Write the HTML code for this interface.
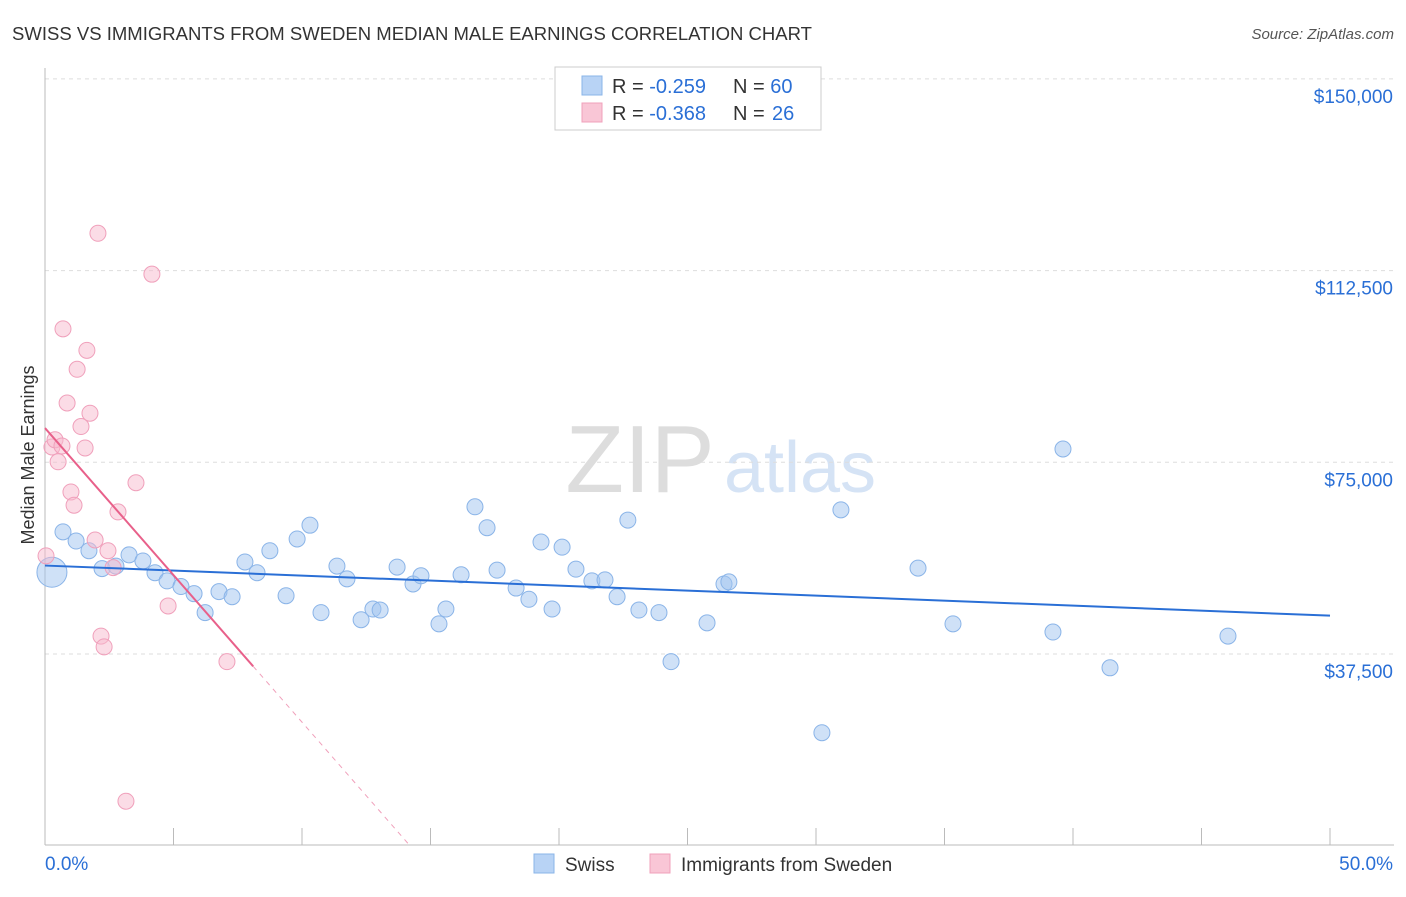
<!DOCTYPE html>
<html><head><meta charset="utf-8"><style>
body{margin:0;background:#fff;font-family:"Liberation Sans",sans-serif}
svg text{font-family:"Liberation Sans",sans-serif}
</style></head><body>
<svg id="c" width="1406" height="892" xmlns="http://www.w3.org/2000/svg">
<text x="12" y="40" font-size="18" fill="#333" textLength="800" lengthAdjust="spacingAndGlyphs">SWISS VS IMMIGRANTS FROM SWEDEN MEDIAN MALE EARNINGS CORRELATION CHART</text>
<text x="1394" y="39" font-size="15" fill="#555" font-style="italic" text-anchor="end">Source: ZipAtlas.com</text>
<text x="640" y="492" font-size="96" fill="#ddd" font-family="Liberation Serif" text-anchor="middle">ZIP</text>
<text x="800" y="492" font-size="72" fill="#d5e3f5" text-anchor="middle">atlas</text>
<g id="grid"></g><g id="axes"></g><g id="marks"></g>
<text transform="translate(34,455) rotate(-90)" font-size="18" fill="#333" text-anchor="middle">Median Male Earnings</text>
<g>
<rect x="555" y="67" width="266" height="63" fill="#fff" stroke="#ccc"/>
<rect x="582" y="76" width="20" height="19" fill="#b8d3f5" stroke="#8ab4e8"/>
<rect x="582" y="103" width="20" height="19" fill="#f9c6d6" stroke="#f0a0bb"/>
<text x="612" y="93" font-size="20" fill="#333">R = <tspan fill="#2a6fd6">-0.259</tspan></text>
<text x="733" y="93" font-size="20" fill="#333">N = <tspan fill="#2a6fd6">60</tspan></text>
<text x="612" y="120" font-size="20" fill="#333">R = <tspan fill="#2a6fd6">-0.368</tspan></text>
<text x="733" y="120" font-size="20" fill="#333">N = </text>
<text x="772" y="120" font-size="20" fill="#2a6fd6">26</text>
</g>
<g>
<rect x="534" y="854" width="20" height="19" fill="#b8d3f5" stroke="#8ab4e8"/>
<text x="565" y="871" font-size="19" fill="#333">Swiss</text>
<rect x="650" y="854" width="20" height="19" fill="#f9c6d6" stroke="#f0a0bb"/>
<text x="681" y="871" font-size="19" fill="#333">Immigrants from Sweden</text>
</g>
</svg>
<script>
const yTicks=[37500,75000,112500,150000];
const yTickLabels=["$37,500","$75,000","$112,500","$150,000"];
const xTickLabels=["0.0%","50.0%"];
const swissX=[0.27,0.70,1.21,1.71,2.22,2.76,3.27,3.81,4.28,4.75,5.29,5.80,6.23,6.77,7.28,7.78,8.25,8.75,9.38,9.81,10.31,10.74,11.36,11.75,12.30,12.76,13.04,13.70,14.32,14.63,15.33,15.60,16.19,16.73,17.20,17.59,18.33,18.83,19.30,19.73,20.12,20.66,21.28,21.79,22.26,22.68,23.11,23.89,24.36,25.76,26.42,26.61,30.23,30.97,33.97,35.33,39.22,39.61,41.44,46.03];
const swissY=[53.5,61.4,59.6,57.7,54.2,54.7,56.9,55.7,53.4,51.8,50.7,49.3,45.6,49.7,48.7,55.5,53.4,57.7,48.9,60.0,62.7,45.6,54.7,52.2,44.2,46.3,46.1,54.5,51.2,52.8,43.4,46.3,53.0,66.3,62.2,53.9,50.4,48.2,59.4,46.3,58.4,54.1,51.8,52.0,48.7,63.7,46.1,45.6,36.0,43.6,51.2,51.6,22.1,65.7,54.3,43.4,41.8,77.6,34.8,41.0];
const swedX=[0.04,0.27,0.39,0.51,0.66,0.70,0.86,1.01,1.13,1.25,1.40,1.56,1.63,1.75,1.95,2.06,2.18,2.30,2.45,2.65,2.84,3.15,3.54,4.16,4.79,7.08];
const swedY=[56.7,78.0,79.4,75.1,78.2,101.1,86.6,69.2,66.6,93.2,82.0,77.8,96.9,84.6,59.8,119.8,41.0,38.9,57.7,54.4,65.3,8.7,71.0,111.8,46.9,36.0];
const swissTrend=[54.8,45.0];
const swedTrend=[81.7,0];
const swedSolidEnd=8.1, swedZero=14.2;
const NS="http://www.w3.org/2000/svg";
const X=p=>45+p*25.7, Y=k=>845.7-k*1000/37500*191.7;
function mk(t,a,parent){const e=document.createElementNS(NS,t);for(const k in a)e.setAttribute(k,a[k]);document.getElementById(parent).appendChild(e);return e;}
yTicks.forEach((v,i)=>{
 const g=mk('line',{x1:45,x2:1394,y1:Y(v/1000),y2:Y(v/1000),stroke:'#ddd','stroke-dasharray':'4,4'},'grid');
 
 
 const t=mk('text',{x:1393,y:Y(v/1000)+24,'font-size':19,fill:'#2a6fd6','text-anchor':'end'},'axes');
 t.textContent=yTickLabels[i];
 
 
});
const ax=mk('line',{x1:45,x2:1394,y1:845,y2:845,stroke:'#bbb'},'axes');


const ay=mk('line',{x1:45,x2:45,y1:68,y2:845,stroke:'#bbb'},'axes');


for(let i=0;i<=10;i++){const t=mk('line',{x1:X(i*5),x2:X(i*5),y1:828,y2:845,stroke:'#bbb'},'axes');
 
 }
[[0,'start',45],[50,'end',1393]].forEach((d,i)=>{const t=mk('text',{x:d[2],y:870,'font-size':19,fill:'#2a6fd6','text-anchor':d[1]},'axes');t.textContent=xTickLabels[i];
 
 });
swissX.forEach((x,i)=>{const c=mk('circle',{cx:X(x),cy:Y(swissY[i]),r:i==0?15:8,fill:'rgba(160,195,240,0.5)',stroke:'#8ab4e8','stroke-width':1},'marks');
 
 });
swedX.forEach((x,i)=>{const c=mk('circle',{cx:X(x),cy:Y(swedY[i]),r:8,fill:'rgba(248,185,205,0.5)',stroke:'#f0a0bb','stroke-width':1},'marks');
 
 });
const bl=mk('line',{x1:X(0),y1:Y(swissTrend[0]),x2:X(50),y2:Y(swissTrend[1]),stroke:'#2a6fd6','stroke-width':2},'marks');


const py=p=>swedTrend[0]+(swedTrend[1]-swedTrend[0])*p/swedZero;
const pl=mk('line',{x1:X(0),y1:Y(py(0)),x2:X(swedSolidEnd),y2:Y(py(swedSolidEnd)),stroke:'#e8608a','stroke-width':2},'marks');


const pd=mk('line',{x1:X(swedSolidEnd),y1:Y(py(swedSolidEnd)),x2:X(swedZero),y2:Y(0),stroke:'#f0a0bb','stroke-width':1,'stroke-dasharray':'5,5'},'marks');


</script>
</body></html>
